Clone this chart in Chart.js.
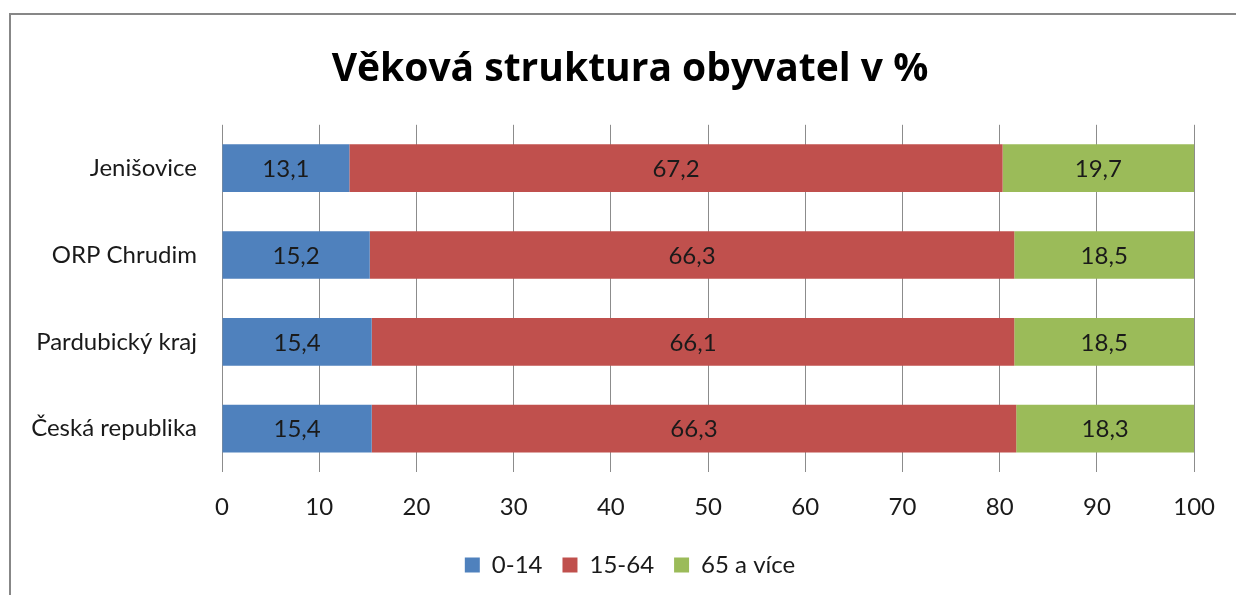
<!DOCTYPE html>
<html>
<head>
<meta charset="utf-8">
<script src="https://cdn.jsdelivr.net/npm/chart.js@4/dist/chart.umd.min.js"></script>
<style>
  html, body { margin: 0; padding: 0; background: #fff; }
  #wrap { width: 1236px; height: 595px; position: relative; }
</style>
</head>
<body>
<div id="wrap"><canvas id="myChart" width="1236" height="595"></canvas></div>
<script>
// data
const categories = ['Jenišovice', 'ORP Chrudim', 'Pardubický kraj', 'Česká republika']
const kids = [13.1, 15.2, 15.4, 15.4]
const adults = [67.2, 66.3, 66.1, 66.3]
const seniors = [19.7, 18.5, 18.5, 18.3]
const seriesNames = ['0-14', '15-64', '65 a více']
const xTicks = [0, 10, 20, 30, 40, 50, 60, 70, 80, 90, 100]

const font = 'Lato, "Open Sans", sans-serif'

// grey frame round the whole chart, like the office export
const framePlugin = {
  id: 'frame',
  beforeDraw (chart) {
    const c = chart.ctx
    c.save()
    c.fillStyle = '#fff'
    c.fillRect(0, 0, chart.width, chart.height)
    c.strokeStyle = '#878787'
    c.lineWidth = 2
    c.strokeRect(10, 14, 1300, 700)
    c.restore()
  }
}

// value in the middle of each segment, with decimal comma
const valueLabels = {
  id: 'valueLabels',
  afterDatasetsDraw (chart) {
    const c = chart.ctx
    c.save()
    c.font = '24px ' + font
    c.fillStyle = '#1a1a1a'
    c.textAlign = 'center'
    c.textBaseline = 'middle'
    chart.data.datasets.forEach((ds, i) => {
      chart.getDatasetMeta(i).data.forEach((bar, j) => {
        const p = bar.getProps(['x', 'y', 'base'], true)
        c.fillText(ds.data[j].toFixed(1).replace('.', ','), (p.x + p.base) / 2, p.y + 1)
      })
    })
    c.restore()
  }
}

const ctx = document.getElementById('myChart').getContext('2d')
const myChart = new Chart(ctx, {
  type: 'bar',
  data: {
    labels: categories,
    datasets: [
      { label: seriesNames[0], data: kids, backgroundColor: '#4F81BD' },
      { label: seriesNames[1], data: adults, backgroundColor: '#C0504D' },
      { label: seriesNames[2], data: seniors, backgroundColor: '#9BBB59' }
    ]
  },
  options: {
    indexAxis: 'y',
    responsive: false,
    animation: false,
    categoryPercentage: 1,
    barPercentage: 0.55,
    layout: { padding: { left: 24, right: 0, top: 0, bottom: 8 } },
    plugins: {
      title: {
        display: true,
        text: 'Věková struktura obyvatel v %',
        color: '#000',
        font: { family: '"Open Sans", sans-serif', size: 39, weight: 'bold' },
        padding: { top: 46, bottom: 32 }
      },
      legend: {
        position: 'bottom',
        labels: {
          color: '#1a1a1a',
          font: { family: font, size: 24 },
          boxWidth: 15,
          boxHeight: 15,
          padding: 20
        }
      },
      tooltip: { enabled: false }
    },
    scales: {
      x: {
        stacked: true,
        min: 0,
        max: 100,
        afterBuildTicks (scale) { scale.ticks = xTicks.map(v => ({ value: v })) },
        afterFit (scale) { scale.height = 61 },
        grid: { color: '#8c8c8c', drawTicks: false },
        border: { display: false },
        ticks: { color: '#1a1a1a', font: { family: font, size: 24 }, padding: 21 }
      },
      y: {
        stacked: true,
        grid: { display: false },
        border: { display: false },
        afterFit (scale) { scale.width = 198 },
        ticks: { color: '#1a1a1a', font: { family: font, size: 24 }, padding: 17 }
      },
      // empty right-hand gutter so the title and legend sit where they do in the original
      gutter: {
        type: 'linear',
        axis: 'y',
        position: 'right',
        min: 0,
        max: 1,
        grid: { display: false },
        border: { display: false },
        ticks: { display: false },
        afterFit (scale) { scale.width = 36 }
      }
    }
  },
  plugins: [framePlugin, valueLabels]
})
</script>
</body>
</html>
